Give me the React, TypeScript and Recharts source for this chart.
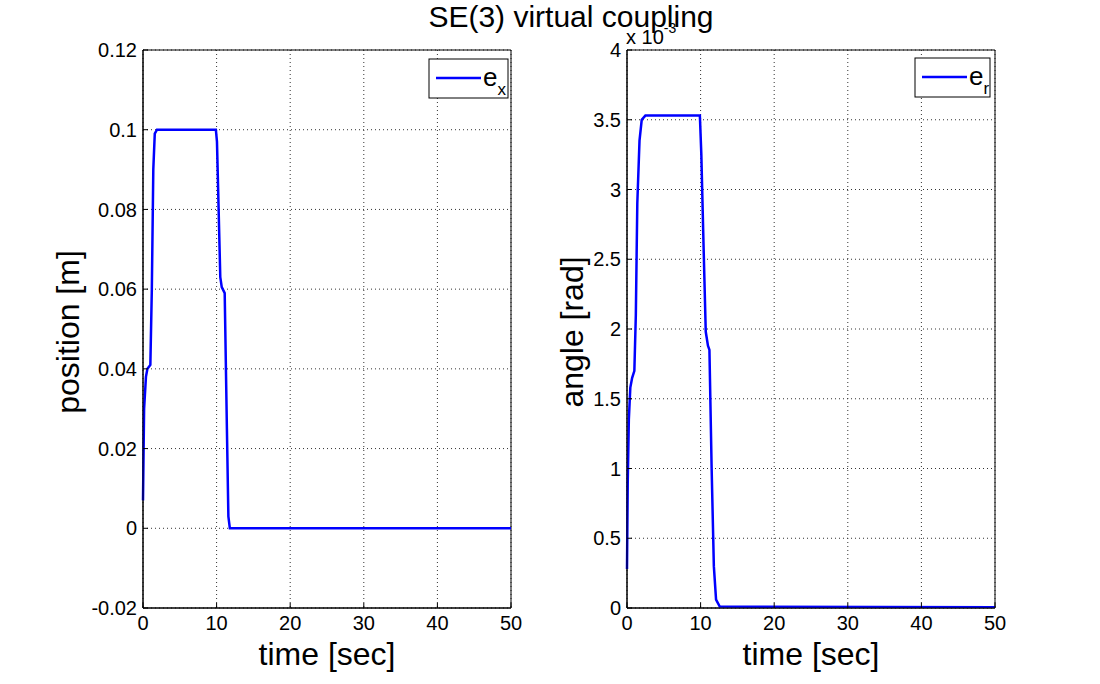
import React from "react";
import { LineChart, Line, XAxis, YAxis, CartesianGrid, ReferenceArea } from "recharts";

// Left subplot: position error e_x [m]
const timeX = [0, 0.15, 0.4, 0.6, 1.0, 1.2, 1.4, 1.6, 1.9, 9.9, 10.05, 10.5, 10.7, 11.1, 11.4, 11.6, 11.8, 50];
const ex = [0.007, 0.03, 0.038, 0.04, 0.041, 0.06, 0.09, 0.099, 0.1, 0.1, 0.097, 0.063, 0.0605, 0.059, 0.025, 0.003, 0, 0];

// Right subplot: angle error e_r [rad] (values in units of 1e-3)
const timeR = [0, 0.1, 0.25, 0.45, 0.7, 1.0, 1.2, 1.4, 1.7, 2.0, 2.5, 9.9, 10.1, 10.4, 10.7, 11.0, 11.2, 11.5, 11.8, 12.1, 12.6, 50];
const er = [0.28, 0.9, 1.35, 1.58, 1.65, 1.7, 2.1, 2.9, 3.35, 3.5, 3.53, 3.53, 3.25, 2.6, 1.98, 1.88, 1.85, 1.0, 0.3, 0.06, 0.01, 0.005];

const xTicks = [0, 10, 20, 30, 40, 50];
const yTicksLeft = [-0.02, 0, 0.02, 0.04, 0.06, 0.08, 0.1, 0.12];
const yTicksRight = [0, 0.5, 1, 1.5, 2, 2.5, 3, 3.5, 4];

const title = "SE(3) virtual coupling";
const xLabel = "time [sec]";
const yLabelLeft = "position [m]";
const yLabelRight = "angle [rad]";

const leftData = timeX.map((t, i) => ({ t, v: ex[i] }));
const rightData = timeR.map((t, i) => ({ t, v: er[i] }));

const FONT = "'Liberation Sans', Arial, sans-serif";
const tickStyle = { fontSize: 20, fill: "#000", fontFamily: FONT };

function fmt(v: number) {
  return String(Number(v.toFixed(3)));
}

function Panel({ data, yTicks, yDomain, left, margin }: any) {
  return (
    <div style={{ position: "absolute", left, top: 0 }}>
      <LineChart width={550} height={684} data={data} margin={margin}>
        <CartesianGrid stroke="#333" strokeDasharray="1 3" strokeWidth={1} />
        <XAxis
          dataKey="t"
          type="number"
          domain={[0, 50]}
          ticks={xTicks}
          height={30}
          tickSize={-5}
          tickMargin={13}
          tickLine={{ stroke: "#000" }}
          axisLine={{ stroke: "#000" }}
          tick={tickStyle}
          interval={0}
        />
        <XAxis
          xAxisId="top"
          orientation="top"
          type="number"
          domain={[0, 50]}
          ticks={xTicks}
          height={0}
          tickSize={-5}
          tickLine={{ stroke: "#000" }}
          axisLine={{ stroke: "#000" }}
          tick={false}
          interval={0}
        />
        <YAxis
          type="number"
          domain={yDomain}
          ticks={yTicks}
          width={60}
          tickSize={-5}
          tickMargin={11}
          tickLine={{ stroke: "#000" }}
          axisLine={{ stroke: "#000" }}
          tick={tickStyle}
          interval={0}
          tickFormatter={fmt}
          allowDataOverflow
        />
        <YAxis
          yAxisId="right"
          orientation="right"
          type="number"
          domain={yDomain}
          ticks={yTicks}
          width={0}
          tickSize={-5}
          tickLine={{ stroke: "#000" }}
          axisLine={{ stroke: "#000" }}
          tick={false}
          interval={0}
          allowDataOverflow
        />
        <ReferenceArea
          x1={0}
          x2={50}
          y1={yDomain[0]}
          y2={yDomain[1]}
          fill="none"
          stroke="#000"
          strokeWidth={1}
          ifOverflow="visible"
        />
        <Line
          type="linear"
          dataKey="v"
          stroke="#0000ff"
          strokeWidth={2.5}
          dot={false}
          isAnimationActive={false}
        />
      </LineChart>
    </div>
  );
}

function LegendBox({ x, y, w, h, sub }: any) {
  return (
    <g>
      <rect x={x} y={y} width={w} height={h} fill="#fff" stroke="#000" strokeWidth={1} />
      <line x1={x + 7} x2={x + 52} y1={y + 19} y2={y + 19} stroke="#0000ff" strokeWidth={2.5} />
      <text x={x + 54} y={y + 27} fontSize={26} fontFamily={FONT} fill="#000">
        e
        <tspan fontSize={17} dy={9}>{sub}</tspan>
      </text>
    </g>
  );
}

export default function App() {
  return (
    <div style={{ position: "absolute", left: 0, top: 0, width: 1100, height: 684, background: "#fff", overflow: "hidden" }}>
      <Panel
        data={leftData}
        yTicks={yTicksLeft}
        yDomain={[-0.02, 0.12]}
        left={0}
        margin={{ top: 50, right: 39, bottom: 46, left: 83 }}
      />
      <Panel
        data={rightData}
        yTicks={yTicksRight}
        yDomain={[0, 4]}
        left={550}
        margin={{ top: 50, right: 105, bottom: 46, left: 17 }}
      />
      <svg width={1100} height={684} style={{ position: "absolute", left: 0, top: 0, pointerEvents: "none" }}>
        <text x={571} y={27} textAnchor="middle" fontSize={30} fontFamily={FONT} fill="#000">
          {title}
        </text>
        <text x={327} y={665} textAnchor="middle" fontSize={32} fontFamily={FONT} fill="#000">
          {xLabel}
        </text>
        <text x={811} y={665} textAnchor="middle" fontSize={32} fontFamily={FONT} fill="#000">
          {xLabel}
        </text>
        <text
          x={79}
          y={332}
          textAnchor="middle"
          fontSize={32}
          fontFamily={FONT}
          fill="#000"
          transform="rotate(-90 79 332)"
        >
          {yLabelLeft}
        </text>
        <text
          x={583}
          y={332}
          textAnchor="middle"
          fontSize={32}
          fontFamily={FONT}
          fill="#000"
          transform="rotate(-90 583 332)"
        >
          {yLabelRight}
        </text>
        <text x={626} y={44} fontSize={20} fontFamily={FONT} fill="#000">
          x 10
          <tspan fontSize={14} dy={-11}>-3</tspan>
        </text>
        <LegendBox x={429} y={59} w={79} h={39} sub="x" />
        <LegendBox x={915} y={58} w={75} h={39} sub="r" />
      </svg>
    </div>
  );
}
